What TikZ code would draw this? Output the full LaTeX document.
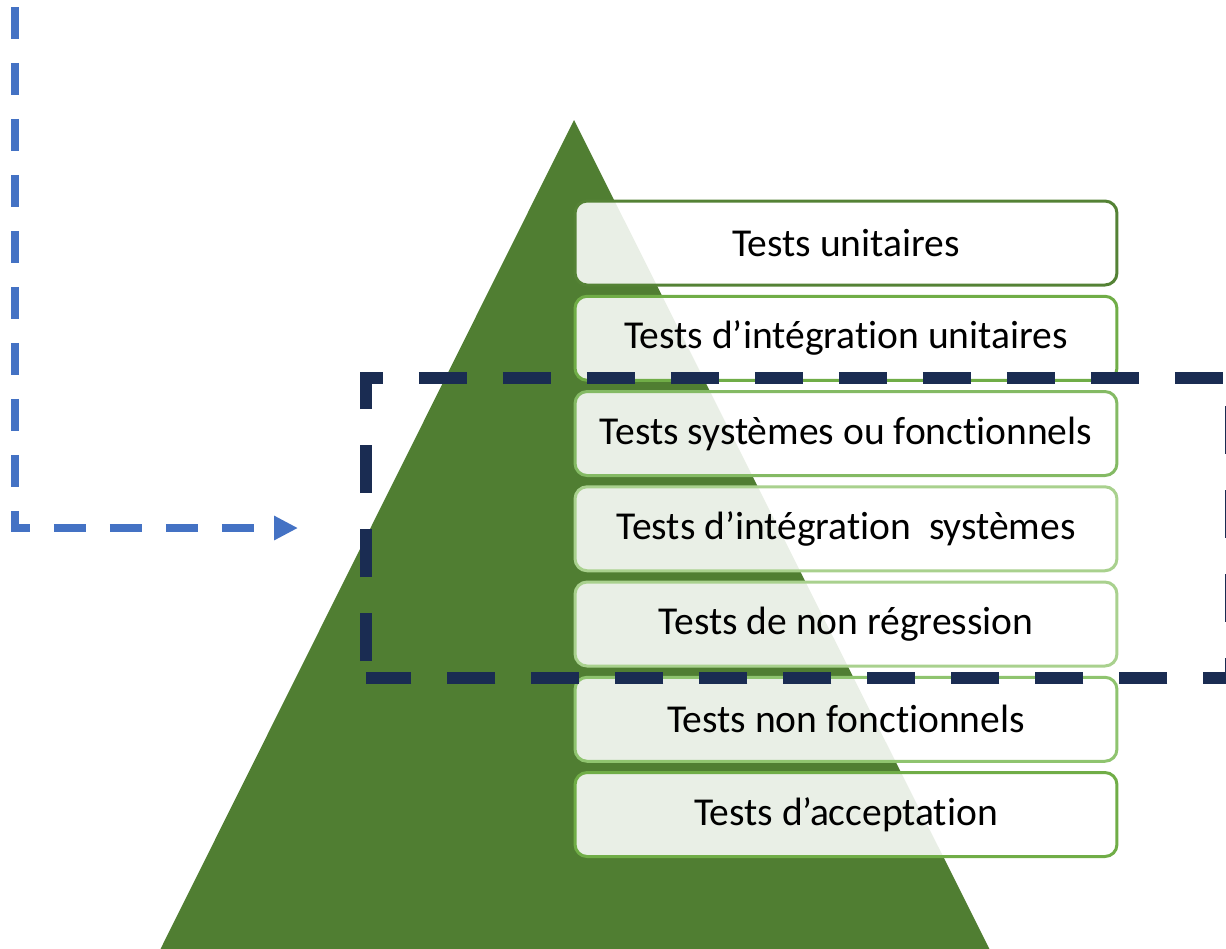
\documentclass[tikz,border=0pt]{standalone}
\usepackage{fontspec}
\setmainfont{Carlito}[RawFeature={-liga;-clig;-calt;-dlig}]
\usetikzlibrary{arrows.meta}
\definecolor{pyramidgreen}{HTML}{507E32}
\definecolor{navyline}{HTML}{1A2C52}
\definecolor{arrowblue}{HTML}{4472C4}
\begin{document}
\begin{tikzpicture}[x=0.02cm,y=-0.02cm,
	stagebox/.style={rounded corners=0.24cm,fill=white,fill opacity=0.88,text opacity=1,line width=0.06cm,minimum width=10.84cm,minimum height=1.68cm,inner sep=0pt,font=\fontsize{22.5}{26}\selectfont},
	navydash/.style={draw=navyline,line width=0.24cm,dash pattern=on 0.96cm off 0.72cm,dash phase=1.34cm},
	bluedash/.style={draw=arrowblue,line width=0.16cm,dash pattern=on 0.64cm off 0.48cm,-{Triangle[length=0.48cm,width=0.46cm]}}]
	\useasboundingbox (0,0) rectangle (1226,948);
	\clip (0,0) rectangle (1226,948);
	\fill[pyramidgreen] (574,120)--(157,956)--(993,956)--cycle;
	\foreach \t/\c [count=\i] in {Tests unitaires/548235,
		Tests d’intégration unitaires/70AD47,
		Tests systèmes ou fonctionnels/84BA64,
		Tests d’intégration\ \ systèmes/A9D18E,
		Tests de non régression/A9D18E,
		Tests non fonctionnels/8FC46F,
		Tests d’acceptation/70AD47}
	{
		\definecolor{boxline}{HTML}{\c}
		\node[stagebox,draw=boxline] (s\i) at (846,{243+95.25*(\i-1)}) {\t};
	}
	\draw[navydash] (366,678)--(366,378)--(1231,378)--(1231,678)--cycle;
	\coordinate (start) at (15,7);
	\coordinate (bend) at (15,528);
	\coordinate (tip) at (298,528);
	\draw[bluedash] (start)--(bend)--(tip);
\end{tikzpicture}
\end{document}
